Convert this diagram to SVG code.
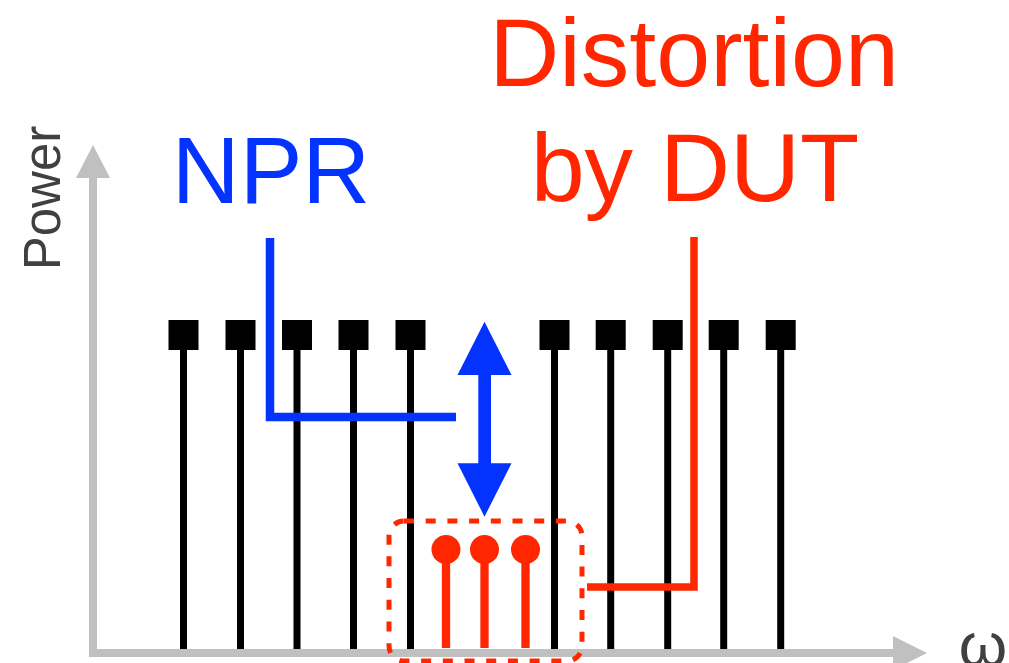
<svg xmlns="http://www.w3.org/2000/svg" width="1009" height="663" viewBox="0 0 1009 663">
<style>
.axis{stroke:#c0c0c0;stroke-width:8;fill:none}
.axhead{fill:#c0c0c0}
.stem{stroke:#000;stroke-width:7}
.sq{fill:#000}
.rstem{stroke:#ff2600;stroke-width:8.3}
.dot{fill:#ff2600}
.blue{stroke:#0433ff;stroke-width:8.5;fill:none}
.red{stroke:#ff2600;stroke-width:7.5;fill:none}
.lbl{font-family:"Liberation Sans",Arial,sans-serif}
</style>
<rect width="1009" height="663" fill="#fff"/>
<g id="axes">
<path class="axis" d="M93 176 V653 H895"/>
<polygon class="axhead" points="93,145 76,178 110,178"/>
<polygon class="axhead" points="927,653 893,636 893,670"/>
<text class="lbl" transform="translate(60,198) rotate(-90)" text-anchor="middle" font-size="51" fill="#404040">Power</text>
<text class="lbl" x="983" y="666" text-anchor="middle" font-size="62" fill="#404040">ω</text>
</g>
<g id="tones">
<g class="stem">
<line x1="183.5" y1="340" x2="183.5" y2="649"/>
<line x1="240.5" y1="340" x2="240.5" y2="649"/>
<line x1="297" y1="340" x2="297" y2="649"/>
<line x1="353.5" y1="340" x2="353.5" y2="649"/>
<line x1="410.5" y1="340" x2="410.5" y2="649"/>
<line x1="554.5" y1="340" x2="554.5" y2="649"/>
<line x1="610.7" y1="340" x2="610.7" y2="649"/>
<line x1="667.7" y1="340" x2="667.7" y2="649"/>
<line x1="723.7" y1="340" x2="723.7" y2="649"/>
<line x1="780.7" y1="340" x2="780.7" y2="649"/>
</g>
<g class="sq">
<rect x="168.5" y="320" width="30" height="30"/>
<rect x="225.5" y="320" width="30" height="30"/>
<rect x="282" y="320" width="30" height="30"/>
<rect x="338.5" y="320" width="30" height="30"/>
<rect x="395.5" y="320" width="30" height="30"/>
<rect x="539.5" y="320" width="30" height="30"/>
<rect x="595.7" y="320" width="30" height="30"/>
<rect x="652.7" y="320" width="30" height="30"/>
<rect x="708.7" y="320" width="30" height="30"/>
<rect x="765.7" y="320" width="30" height="30"/>
</g>
</g>
<g id="distortion-tones">
<g class="rstem">
<line x1="446" y1="550" x2="446" y2="648"/>
<line x1="484.5" y1="550" x2="484.5" y2="648"/>
<line x1="525.5" y1="550" x2="525.5" y2="648"/>
</g>
<circle class="dot" cx="446" cy="549.5" r="14.5"/>
<circle class="dot" cx="484.5" cy="549.5" r="14.5"/>
<circle class="dot" cx="525.5" cy="549.5" r="14.5"/>
<rect x="389" y="521" width="193" height="140" rx="15" fill="none" stroke="#ff2600" stroke-width="5" stroke-dasharray="10 11.7"/>
</g>
<g id="npr-arrow">
<rect x="478.3" y="372" width="12.7" height="94" fill="#0433ff"/>
<polygon points="484.5,321.7 457.5,375 511.5,375" fill="#0433ff"/>
<polygon points="484.5,516.7 457.5,463.3 511.5,463.3" fill="#0433ff"/>
</g>
<g id="connectors">
<path class="blue" d="M270 238 V417 H456"/>
<path class="red" d="M694 237 V587 H587"/>
</g>
<g id="labels">
<text class="lbl" x="271" y="203" text-anchor="middle" font-size="94" fill="#0433ff">NPR</text>
<text class="lbl" x="694" y="86" text-anchor="middle" font-size="97" fill="#ff2600">Distortion</text>
<text class="lbl" x="695" y="200.5" text-anchor="middle" font-size="97" fill="#ff2600">by DUT</text>
</g>
</svg>
